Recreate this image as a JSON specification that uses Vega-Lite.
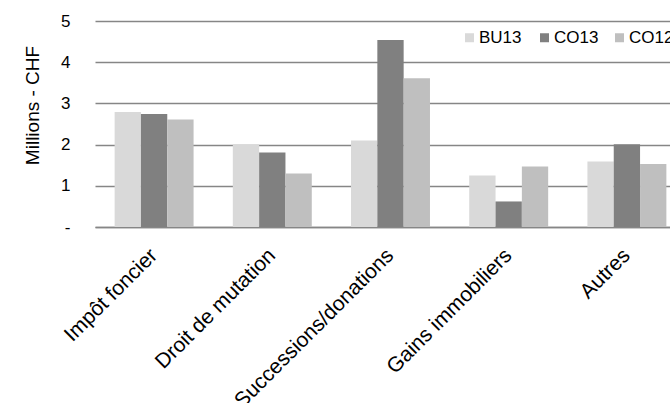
{
  "$schema": "https://vega.github.io/schema/vega-lite/v6.json",
  "autosize": "none",
  "width": 575,
  "height": 206,
  "padding": {"left": 95, "top": 21, "right": 0, "bottom": 176},
  "background": "white",
  "config": {
    "font": "Liberation Sans",
    "view": {"stroke": null}
  },
  "data": {
    "values": [
      {"cat": "Impôt foncier", "serie": "BU13", "ord": 1, "val": 2.79},
      {"cat": "Impôt foncier", "serie": "CO13", "ord": 2, "val": 2.74},
      {"cat": "Impôt foncier", "serie": "CO12", "ord": 3, "val": 2.61},
      {"cat": "Droit de mutation", "serie": "BU13", "ord": 1, "val": 2.01},
      {"cat": "Droit de mutation", "serie": "CO13", "ord": 2, "val": 1.81},
      {"cat": "Droit de mutation", "serie": "CO12", "ord": 3, "val": 1.30},
      {"cat": "Successions/donations", "serie": "BU13", "ord": 1, "val": 2.10},
      {"cat": "Successions/donations", "serie": "CO13", "ord": 2, "val": 4.54},
      {"cat": "Successions/donations", "serie": "CO12", "ord": 3, "val": 3.61},
      {"cat": "Gains immobiliers", "serie": "BU13", "ord": 1, "val": 1.25},
      {"cat": "Gains immobiliers", "serie": "CO13", "ord": 2, "val": 0.62},
      {"cat": "Gains immobiliers", "serie": "CO12", "ord": 3, "val": 1.47},
      {"cat": "Autres", "serie": "BU13", "ord": 1, "val": 1.59},
      {"cat": "Autres", "serie": "CO13", "ord": 2, "val": 2.01},
      {"cat": "Autres", "serie": "CO12", "ord": 3, "val": 1.53}
    ]
  },
  "mark": {"type": "bar", "clip": true},
  "encoding": {
    "x": {
      "field": "cat",
      "type": "nominal",
      "sort": null,
      "scale": {"range": [0, 591], "paddingInner": 0.332, "paddingOuter": 0.166},
      "axis": {
        "title": null,
        "labelAngle": -45,
        "labelAlign": "right",
        "labelBaseline": "middle",
        "labelPadding": 25,
        "labelFontSize": 21,
        "labelColor": "#000000",
        "ticks": false,
        "domainColor": "#868686",
        "domainWidth": 1.5,
        "labelOverlap": false,
        "labelLimit": 400
      }
    },
    "xOffset": {
      "field": "serie",
      "type": "nominal",
      "sort": ["BU13", "CO13", "CO12"],
      "scale": {"paddingInner": 0, "paddingOuter": 0}
    },
    "y": {
      "field": "val",
      "type": "quantitative",
      "scale": {"domain": [0, 5], "nice": false},
      "axis": {
        "title": "Millions - CHF",
        "titleFontSize": 19,
        "titleFontWeight": "normal",
        "titleColor": "#000000",
        "titleAngle": -90,
        "titleX": -57,
        "titleY": 84,
        "titleAlign": "center",
        "titleBaseline": "alphabetic",
        "values": [0, 1, 2, 3, 4, 5],
        "labelExpr": "datum.value == 0 ? '-\u00a0\u00a0\u00a0' : datum.label",
        "labelFontSize": 17,
        "labelColor": "#000000",
        "labelPadding": 25,
        "ticks": false,
        "domain": false,
        "grid": true,
        "gridColor": "#868686",
        "gridWidth": 1.3
      }
    },
    "color": {
      "field": "serie",
      "type": "nominal",
      "sort": ["BU13", "CO13", "CO12"],
      "scale": {"domain": ["BU13", "CO13", "CO12"], "range": ["#d9d9d9", "#808080", "#bfbfbf"]},
      "legend": {
        "title": null,
        "orient": "none",
        "legendX": 366,
        "legendY": 8,
        "direction": "horizontal",
        "columns": 3,
        "gridAlign": "all",
        "columnPadding": 12,
        "padding": 0,
        "symbolType": "square",
        "symbolSize": 81,
        "symbolStrokeWidth": 0,
        "labelFontSize": 17,
        "labelColor": "#000000",
        "labelOffset": 1
      }
    }
  }
}
